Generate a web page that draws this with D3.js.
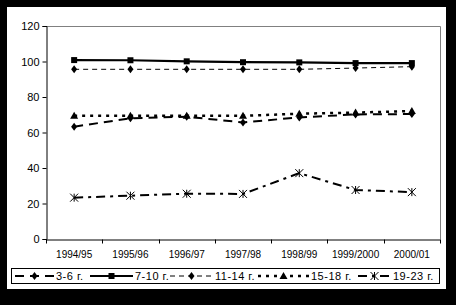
<!DOCTYPE html>
<html>
<head>
<meta charset="utf-8">
<script src="https://cdn.jsdelivr.net/npm/d3@7"></script>
<style>
  body { margin: 0; background: #000; }
  svg { display: block; }
  text { font-family: "Liberation Sans", Arial, sans-serif; fill: #000; }
</style>
</head>
<body>
<svg id="chart" width="456" height="305"></svg>
<script>
const years = ["1994/95", "1995/96", "1996/97", "1997/98", "1998/99", "1999/2000", "2000/01"];
const yTicks = [0, 20, 40, 60, 80, 100, 120];
const age3to6 = [63.3, 68, 68.9, 65.7, 68.5, 70.2, 70.4];
const age7to10 = [100.8, 100.7, 100.1, 99.6, 99.5, 99.1, 99.1];
const age11to14 = [95.6, 95.6, 95.6, 95.6, 95.6, 96.3, 97.1];
const age15to18 = [69.4, 69.4, 69.5, 69.4, 70.6, 71.2, 72.1];
const age19to23 = [23.3, 24.4, 25.5, 25.4, 37.1, 27.6, 26.4];

const series = [
  { name: "3-6 г.", values: age3to6, marker: "diamond", width: 2, dash: "9,6" },
  { name: "7-10 г.", values: age7to10, marker: "square", width: 2.2, dash: null },
  { name: "11-14 г.", values: age11to14, marker: "diamond", width: 1, dash: "5,4" },
  { name: "15-18 г.", values: age15to18, marker: "triangle", width: 2.5, dash: "3,5" },
  { name: "19-23 г.", values: age19to23, marker: "star", width: 2, dash: "9,5,3,5" }
];

const svg = d3.select("#chart");
const plot = { left: 46, right: 440, top: 26, bottom: 239 };

// white chart area inside black frame
svg.append("rect").attr("x", 7).attr("y", 7).attr("width", 439).attr("height", 282).attr("fill", "#fff");

const x = d3.scaleBand().domain(years).range([plot.left, plot.right]);
const y = d3.scaleLinear().domain([0, 120]).range([plot.bottom, plot.top]);

// plot area border (top and right in grey)
svg.append("path")
  .attr("d", `M${plot.left},${plot.top + 0.5}H${plot.right + 0.5}V${plot.bottom}`)
  .attr("fill", "none").attr("stroke", "#808080");

const yAxis = svg.append("g")
  .attr("transform", `translate(${plot.left + 0.5},0)`)
  .call(d3.axisLeft(y).tickValues(yTicks).tickSize(4).tickPadding(3));
yAxis.selectAll("text").attr("font-size", 11).attr("font-family", "Liberation Sans, Arial, sans-serif");

const xAxis = svg.append("g")
  .attr("transform", `translate(0,${plot.bottom + 0.5})`)
  .call(d3.axisBottom(x).tickSize(0).tickPadding(11));
xAxis.selectAll("text").attr("font-size", 10).attr("font-family", "Liberation Sans, Arial, sans-serif");
// category boundary ticks
xAxis.selectAll(".bound")
  .data(d3.range(years.length + 1))
  .join("line")
  .attr("x1", i => Math.round(plot.left + i * x.bandwidth()) + 0.5)
  .attr("x2", i => Math.round(plot.left + i * x.bandwidth()) + 0.5)
  .attr("y1", 0).attr("y2", 4)
  .attr("stroke", "#000");
svg.selectAll(".domain").attr("stroke", "#000");

function drawMarker(g, type, cx, cy) {
  if (type === "square") {
    g.append("rect").attr("x", cx - 3).attr("y", cy - 3).attr("width", 6).attr("height", 6).attr("fill", "#000");
  } else if (type === "diamond") {
    g.append("path").attr("d", `M${cx},${cy - 4}L${cx + 3},${cy}L${cx},${cy + 4}L${cx - 3},${cy}Z`).attr("fill", "#000");
  } else if (type === "triangle") {
    g.append("path").attr("d", `M${cx},${cy - 4}L${cx + 4},${cy + 3}L${cx - 4},${cy + 3}Z`).attr("fill", "#000");
  } else if (type === "star") {
    g.append("path")
      .attr("d", `M${cx - 4},${cy - 4}L${cx + 4},${cy + 4}M${cx + 4},${cy - 4}L${cx - 4},${cy + 4}M${cx},${cy - 4}V${cy + 4}`)
      .attr("stroke", "#000").attr("stroke-width", 1).attr("fill", "none");
  }
}

const line = d3.line()
  .x((d, i) => x(years[i]) + x.bandwidth() / 2)
  .y(d => y(d));

series.forEach(s => {
  const g = svg.append("g");
  g.append("path")
    .attr("d", line(s.values))
    .attr("fill", "none")
    .attr("stroke", "#000")
    .attr("stroke-width", s.width)
    .attr("stroke-dasharray", s.dash);
  s.values.forEach((v, i) => drawMarker(g, s.marker, x(years[i]) + x.bandwidth() / 2, y(v)));
});

// legend (sample start and width per entry, as laid out in the original)
const legendStart = [15, 90, 170, 258, 358];
const legendSample = [39, 43, 43, 51, 33];
const legend = svg.append("g");
legend.append("rect")
  .attr("x", 11.5).attr("y", 268.5).attr("width", 428).attr("height", 15)
  .attr("fill", "#fff").attr("stroke", "#000");
const legendY = 276;
series.forEach((s, i) => {
  const g = legend.append("g");
  const lx = legendStart[i], sw = legendSample[i];
  g.append("line")
    .attr("x1", lx).attr("x2", lx + sw).attr("y1", legendY).attr("y2", legendY)
    .attr("stroke", "#000").attr("stroke-width", s.width).attr("stroke-dasharray", s.dash);
  drawMarker(g, s.marker, lx + sw / 2, legendY);
  g.append("text")
    .attr("x", lx + sw + 2).attr("y", legendY + 4)
    .attr("font-size", 11)
    .attr("letter-spacing", 0.5)
    .text(s.name);
});
</script>
</body>
</html>
